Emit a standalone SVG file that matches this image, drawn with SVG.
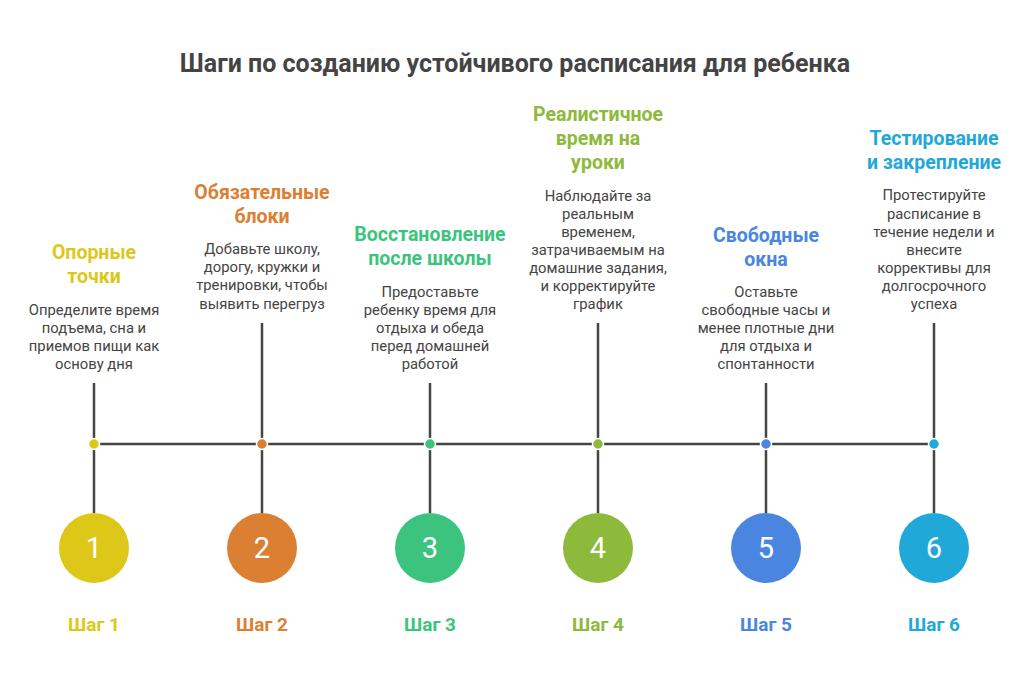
<svg xmlns="http://www.w3.org/2000/svg" width="1030" height="684" viewBox="0 0 1030 684">
<style>
.title{font-family:Roboto,"Liberation Sans",sans-serif;font-weight:700;font-size:25px;fill:#444;text-anchor:middle}
.h{font-family:Roboto,"Liberation Sans",sans-serif;font-weight:700;font-size:19.5px;text-anchor:middle}
.b{font-family:Roboto,"Liberation Sans",sans-serif;font-size:14.8px;fill:#444;text-anchor:middle}
.n{font-family:Roboto,"Liberation Sans",sans-serif;font-size:29px;fill:#fff;text-anchor:middle}
.s{font-family:Roboto,"Liberation Sans",sans-serif;font-weight:700;font-size:19px;text-anchor:middle}
.ln{stroke:#444;stroke-width:2.5;fill:none}
.dot{stroke:#fff;stroke-width:1.5}
</style>
<rect width="1030" height="684" fill="#fff"/>
<text class="title" x="515" y="72">Шаги по созданию устойчивого расписания для ребенка</text>
<g id="connectors">
<line class="ln" x1="94" y1="444" x2="934" y2="444"/>
<line class="ln" x1="94" y1="383" x2="94" y2="513"/>
<line class="ln" x1="262" y1="323" x2="262" y2="513"/>
<line class="ln" x1="430" y1="383" x2="430" y2="513"/>
<line class="ln" x1="598" y1="323" x2="598" y2="513"/>
<line class="ln" x1="766" y1="383" x2="766" y2="513"/>
<line class="ln" x1="934" y1="323" x2="934" y2="513"/>
</g>
<g id="step1">
<text class="h" fill="#DDC81A"><tspan x="94" y="259">Опорные</tspan><tspan x="94" y="283">точки</tspan></text>
<text class="b"><tspan x="94" y="315">Определите время</tspan><tspan x="94" y="333">подъема, сна и</tspan><tspan x="94" y="351">приемов пищи как</tspan><tspan x="94" y="369">основу дня</tspan></text>
<circle class="dot" cx="94" cy="444" r="5.5" fill="#DDC81A"/>
<circle cx="94" cy="548" r="35" fill="#DDC81A"/>
<text class="n" x="94" y="558">1</text>
<text class="s" x="94" y="631" fill="#DDC81A">Шаг 1</text>
</g>
<g id="step2">
<text class="h" fill="#DB8033"><tspan x="262" y="199">Обязательные</tspan><tspan x="262" y="223">блоки</tspan></text>
<text class="b"><tspan x="262" y="254">Добавьте школу,</tspan><tspan x="262" y="272">дорогу, кружки и</tspan><tspan x="262" y="290">тренировки, чтобы</tspan><tspan x="262" y="309">выявить перегруз</tspan></text>
<circle class="dot" cx="262" cy="444" r="5.5" fill="#DB8033"/>
<circle cx="262" cy="548" r="35" fill="#DB8033"/>
<text class="n" x="262" y="558">2</text>
<text class="s" x="262" y="631" fill="#DB8033">Шаг 2</text>
</g>
<g id="step3">
<text class="h" fill="#3CC47F"><tspan x="430" y="241">Восстановление</tspan><tspan x="430" y="265">после школы</tspan></text>
<text class="b"><tspan x="430" y="297">Предоставьте</tspan><tspan x="430" y="315">ребенку время для</tspan><tspan x="430" y="333">отдыха и обеда</tspan><tspan x="430" y="351">перед домашней</tspan><tspan x="430" y="369">работой</tspan></text>
<circle class="dot" cx="430" cy="444" r="5.5" fill="#3CC47F"/>
<circle cx="430" cy="548" r="35" fill="#3CC47F"/>
<text class="n" x="430" y="558">3</text>
<text class="s" x="430" y="631" fill="#3CC47F">Шаг 3</text>
</g>
<g id="step4">
<text class="h" fill="#8DBA3A"><tspan x="598" y="121">Реалистичное</tspan><tspan x="598" y="145">время на</tspan><tspan x="598" y="169">уроки</tspan></text>
<text class="b"><tspan x="598" y="201">Наблюдайте за</tspan><tspan x="598" y="219">реальным</tspan><tspan x="598" y="237">временем,</tspan><tspan x="598" y="255">затрачиваемым на</tspan><tspan x="598" y="273">домашние задания,</tspan><tspan x="598" y="291">и корректируйте</tspan><tspan x="598" y="309">график</tspan></text>
<circle class="dot" cx="598" cy="444" r="5.5" fill="#8DBA3A"/>
<circle cx="598" cy="548" r="35" fill="#8DBA3A"/>
<text class="n" x="598" y="558">4</text>
<text class="s" x="598" y="631" fill="#8DBA3A">Шаг 4</text>
</g>
<g id="step5">
<text class="h" fill="#4A86E0"><tspan x="766" y="242">Свободные</tspan><tspan x="766" y="266">окна</tspan></text>
<text class="b"><tspan x="766" y="297">Оставьте</tspan><tspan x="766" y="315">свободные часы и</tspan><tspan x="766" y="333">менее плотные дни</tspan><tspan x="766" y="351">для отдыха и</tspan><tspan x="766" y="369">спонтанности</tspan></text>
<circle class="dot" cx="766" cy="444" r="5.5" fill="#4A86E0"/>
<circle cx="766" cy="548" r="35" fill="#4A86E0"/>
<text class="n" x="766" y="558">5</text>
<text class="s" x="766" y="631" fill="#4A86E0">Шаг 5</text>
</g>
<g id="step6">
<text class="h" fill="#1FA8D8"><tspan x="934" y="145">Тестирование</tspan><tspan x="934" y="169">и закрепление</tspan></text>
<text class="b"><tspan x="934" y="200">Протестируйте</tspan><tspan x="934" y="219">расписание в</tspan><tspan x="934" y="237">течение недели и</tspan><tspan x="934" y="255">внесите</tspan><tspan x="934" y="273">коррективы для</tspan><tspan x="934" y="291">долгосрочного</tspan><tspan x="934" y="309">успеха</tspan></text>
<circle class="dot" cx="934" cy="444" r="5.5" fill="#1FA8D8"/>
<circle cx="934" cy="548" r="35" fill="#1FA8D8"/>
<text class="n" x="934" y="558">6</text>
<text class="s" x="934" y="631" fill="#1FA8D8">Шаг 6</text>
</g>
</svg>
